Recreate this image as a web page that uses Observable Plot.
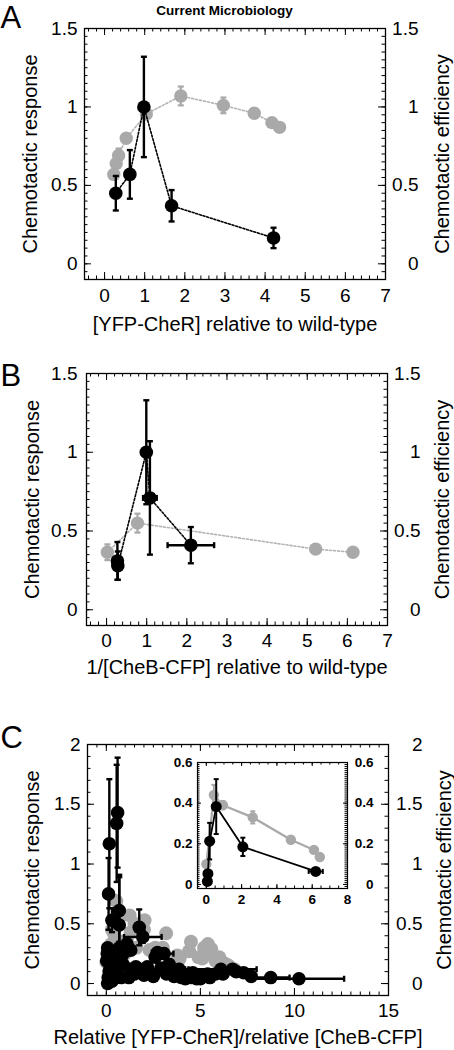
<!DOCTYPE html>
<html><head><meta charset="utf-8">
<script src="https://cdn.jsdelivr.net/npm/d3@7"></script>
<script src="https://cdn.jsdelivr.net/npm/@observablehq/plot@0.6"></script>
<style>
body{margin:0;background:#fff;}
#root{position:relative;width:454px;height:1050px;overflow:hidden;}
#root svg{position:absolute;}
</style></head><body><div id="root"></div>
<script>
// ---------- Panel A ----------
const A_resp_x   = [0.28, 0.63, 0.98, 1.67, 4.21];
const A_resp_y   = [0.45, 0.57, 1.00, 0.37, 0.165];
const A_resp_err = [0.11, 0.155, 0.32, 0.10, 0.065];
const A_eff_x    = [0.23, 0.29, 0.35, 0.54, 1.04, 1.90, 2.96, 3.73, 4.17, 4.36];
const A_eff_y    = [0.57, 0.64, 0.69, 0.80, 0.955, 1.07, 1.01, 0.96, 0.90, 0.87];
const A_eff_err  = [0.02, 0.03, 0.045, 0.02, 0.02, 0.06, 0.05, 0.03, 0.02, 0.02];
// ---------- Panel B ----------
const B_resp_x    = [0.27, 0.28, 0.99, 1.08, 2.10];
const B_resp_y    = [0.31, 0.28, 1.00, 0.71, 0.41];
const B_resp_yerr = [0.12, 0.09, 0.33, 0.36, 0.115];
const B_resp_xerr = [0, 0, 0.05, 0.17, 0.58];
const B_eff_x     = [0.02, 0.77, 5.21, 6.14];
const B_eff_y     = [0.365, 0.55, 0.385, 0.365];
const B_eff_err   = [0.05, 0.06, 0, 0];
// ---------- Panel C (main) ----------
const C_resp_x = [0.16,0.60,0.55,0.12,0.69,0.30,0.69,1.75,1.94,0.07,0.69,1.04,2.72,3.07,3.34,0.02,0.45,0.20,0.89,1.57,2.18,0.07,0.50,1.20,2.00,3.87,4.40,5.10,5.80,4.50,5.39,6.09,6.71,7.70,8.74,10.24,0.35,0.25,2.60,4.00,4.80,
  0.10,0.15,0.30,0.40,0.60,0.80,0.90,1.30,1.50,1.80,2.30,2.50,2.90,3.20,3.60,4.20,4.60,5.00,5.50,6.20,6.90,7.30,1.10,1.30,0.05,0.35,0.75];
const C_resp_y = [1.17,1.43,1.34,0.75,0.61,0.53,0.49,0.47,0.39,0.30,0.30,0.30,0.26,0.25,0.16,0.19,0.23,0.13,0.16,0.14,0.14,0.00,0.05,0.05,0.07,0.12,0.08,0.07,0.08,0.05,0.08,0.12,0.12,0.06,0.05,0.04,0.10,0.07,0.22,0.05,0.04,
  0.05,0.10,0.02,0.15,0.10,0.05,0.25,0.12,0.08,0.12,0.09,0.06,0.13,0.08,0.06,0.04,0.09,0.04,0.05,0.08,0.10,0.09,0.33,0.28,0.25,0.20,0.18];
const C_resp_yerr = [0.54,0.46,0.49,0.30,0.30,0.10,0.40,0.15,0.05,0,0.05,0,0.03,0.04,0,0,0,0,0,0,0,0,0,0,0,0,0,0,0,0,0,0,0,0,0,0,0,0,0,0,0,
  0,0,0,0,0,0,0,0,0,0,0,0,0,0,0,0,0,0,0,0,0,0,0,0,0,0,0];
const C_resp_xerr = [0,0,0,0,0,0,0,0.10,1.00,0,0,0,0.30,0.50,0,0,0,0,0,0,0,0,0,0,0,0.50,0,0,0,0,1.90,1.90,0,0,1.00,2.40,0,0,0,0,0,
  0,0,0,0,0,0,0,0,0,0,0,0,0,0,0,0,0,0,0,0,0,0,0,0,0,0,0];
const C_eff_x = [0.53,1.24,2.03,1.30,3.18,4.50,5.20,5.58,5.10,5.80,6.27,0.26,0.09,0.00,2.30,3.90,3.78,4.90,6.00,0.80,1.60,0.40,1.00,
  0.60,0.15,0.50,1.50,2.00,2.60,3.00,5.40,5.60,6.50,6.80,4.40,0.30,1.10];
const C_eff_y = [0.69,0.57,0.53,0.43,0.42,0.35,0.30,0.29,0.21,0.19,0.17,0.33,0.28,0.18,0.28,0.21,0.235,0.22,0.22,0.35,0.30,0.42,0.25,
  0.55,0.22,0.30,0.50,0.45,0.30,0.30,0.33,0.24,0.15,0.12,0.27,0.45,0.35];
// ---------- Panel C (inset) ----------
const Ci_eff_x   = [0.00, 0.43, 0.94, 2.63, 4.79, 6.10, 6.43];
const Ci_eff_y   = [0.10, 0.44, 0.39, 0.33, 0.22, 0.17, 0.135];
const Ci_eff_err = [0, 0.05, 0.02, 0.03, 0, 0, 0];
const Ci_resp_x    = [0.06, 0.09, 0.19, 0.56, 2.07, 6.20];
const Ci_resp_y    = [0.015, 0.053, 0.213, 0.383, 0.185, 0.064];
const Ci_resp_yerr = [0, 0, 0.09, 0.135, 0.045, 0];
const Ci_resp_xerr = [0, 0, 0, 0, 0, 0.4];
// ---------- tick values ----------
const AB_xTicks = [0,1,2,3,4,5,6,7];
const AB_yTicks = [0,0.5,1,1.5];
const C_xTicks = [0,5,10,15];
const C_yTicks = [0,0.5,1,1.5,2];
const Ci_xTicks = [0,2,4,6,8];
const Ci_yTicks = [0,0.2,0.4,0.6];

const FONT = '"Liberation Sans", Arial, Helvetica, sans-serif';
const GRAY = "#a9a9a9";
const GRAYLINE = "#b3b3b3";
const fmt = d => String(d);

const capH = {draw(ctx, size){const r=Math.sqrt(size/Math.PI); ctx.moveTo(-r,0); ctx.lineTo(r,0);}};
const capV = {draw(ctx, size){const r=Math.sqrt(size/Math.PI); ctx.moveTo(0,-r); ctx.lineTo(0,r);}};

function seq(a,b,s){const out=[];const n=Math.round((b-a)/s);for(let i=0;i<=n;i++) out.push(+(a+i*s).toFixed(6));return out;}
function rows(xs, ys, ye, xe){return xs.map((x,i)=>({x, y:ys[i], ye: ye ? ye[i] : 0, xe: xe ? xe[i] : 0}));}

function tickMarks(W,H,xMaj,xMin,yMaj,yMin,maj,min,sw){
  const o={stroke:"black",strokeWidth:sw};
  return [
    Plot.ruleX(xMin,{x:d=>d,insetTop:H-min,...o}),
    Plot.ruleX(xMin,{x:d=>d,insetBottom:H-min,...o}),
    Plot.ruleX(xMaj,{x:d=>d,insetTop:H-maj,...o}),
    Plot.ruleX(xMaj,{x:d=>d,insetBottom:H-maj,...o}),
    Plot.ruleY(yMin,{y:d=>d,insetRight:W-min,...o}),
    Plot.ruleY(yMin,{y:d=>d,insetLeft:W-min,...o}),
    Plot.ruleY(yMaj,{y:d=>d,insetRight:W-maj,...o}),
    Plot.ruleY(yMaj,{y:d=>d,insetLeft:W-maj,...o})
  ];
}

function errMarks(data,color,sw,cap){
  const dy=data.filter(r=>r.ye>0), dx=data.filter(r=>r.xe>0);
  const o={stroke:color,strokeWidth:sw};
  return [
    Plot.ruleX(dy,{x:"x",y1:r=>r.y-r.ye,y2:r=>r.y+r.ye,...o}),
    Plot.dot(dy,{x:"x",y:r=>r.y+r.ye,symbol:capH,r:cap,fill:"none",...o}),
    Plot.dot(dy,{x:"x",y:r=>r.y-r.ye,symbol:capH,r:cap,fill:"none",...o}),
    Plot.ruleY(dx,{y:"y",x1:r=>r.x-r.xe,x2:r=>r.x+r.xe,...o}),
    Plot.dot(dx,{y:"y",x:r=>r.x+r.xe,symbol:capV,r:cap,fill:"none",...o}),
    Plot.dot(dx,{y:"y",x:r=>r.x-r.xe,symbol:capV,r:cap,fill:"none",...o})
  ];
}

function mainPanel(c){
  const W=c.width-c.ml-c.mr, H=c.height-c.mt-c.mb;
  const svg = Plot.plot({
    width:c.width,height:c.height,marginLeft:c.ml,marginRight:c.mr,marginTop:c.mt,marginBottom:c.mb,
    x:{domain:c.xd},y:{domain:c.yd},
    style:{fontFamily:FONT,fontSize:"19px",color:"black",background:"transparent",overflow:"visible"},
    marks:[
      ...c.dataMarks,
      Plot.frame({stroke:"black",strokeWidth:1.3}),
      ...tickMarks(W,H,c.xTicks,c.xMinor,c.yTicks,c.yMinor,7,3.5,1),
      Plot.axisX({ticks:c.xTicks,tickSize:0,tickPadding:c.xPad,tickFormat:fmt,label:null,fontSize:19}),
      Plot.axisY({anchor:"left",ticks:c.yTicks,tickSize:0,tickPadding:c.lPad,tickFormat:fmt,label:null,fontSize:19}),
      Plot.axisY({anchor:"right",ticks:c.yTicks,tickSize:0,tickPadding:c.rPad,tickFormat:fmt,textAnchor:"end",label:null,fontSize:19}),
      Plot.text([c.xLabel],{text:d=>d,frameAnchor:"bottom",dy:c.xLabDy,textAnchor:"middle",lineAnchor:"middle",fontSize:20}),
      Plot.text([c.yLabel],{text:d=>d,frameAnchor:"left",dx:c.yLabDx,rotate:-90,textAnchor:"middle",lineAnchor:"middle",fontSize:20}),
      Plot.text([c.y2Label],{text:d=>d,frameAnchor:"right",dx:c.y2LabDx,rotate:-90,textAnchor:"middle",lineAnchor:"middle",fontSize:20}),
      Plot.text([c.letter],{text:d=>d,frameAnchor:"top-left",dx:-c.ml,dy:c.letterDy,textAnchor:"start",lineAnchor:"top",fontSize:31}),
      ...(c.extra||[])
    ]
  });
  svg.style.left=(c.left||0)+"px"; svg.style.top=c.top+"px";
  return svg;
}

const root=document.getElementById("root");

// Panel A
const aResp=rows(A_resp_x,A_resp_y,A_resp_err), aEff=rows(A_eff_x,A_eff_y,A_eff_err);
root.appendChild(mainPanel({
  top:0,width:454,height:330,ml:84,mr:69,mt:28,mb:51,xd:[-0.5,7],yd:[-0.1,1.5],
  xTicks:AB_xTicks,xMinor:seq(-0.4,6.8,0.2),yTicks:AB_yTicks,yMinor:seq(-0.05,1.45,0.05),
  xPad:9,lPad:7,rPad:33,xLabel:"[YFP-CheR] relative to wild-type",xLabDy:45,
  yLabel:"Chemotactic response",yLabDx:-54,y2Label:"Chemotactic efficiency",y2LabDx:57,
  letter:"A",letterDy:-23,
  dataMarks:[
    Plot.line(aEff,{x:"x",y:"y",stroke:GRAYLINE,strokeWidth:1.6,strokeDasharray:"2,2"}),
    ...errMarks(aEff,GRAY,2.2,3),
    Plot.dot(aEff,{x:"x",y:"y",r:6.7,fill:GRAY}),
    Plot.line(aResp,{x:"x",y:"y",stroke:"black",strokeWidth:1.6,strokeDasharray:"2,1.8"}),
    ...errMarks(aResp,"black",2.4,3),
    Plot.dot(aResp,{x:"x",y:"y",r:6.8,fill:"black"})
  ],
  extra:[Plot.text(["Current Microbiology"],{text:d=>d,frameAnchor:"top",dx:-10.5,dy:-23,textAnchor:"middle",lineAnchor:"top",fontSize:13.5,fontWeight:"bold"})]
}));

// Panel B
const bResp=rows(B_resp_x,B_resp_y,B_resp_yerr,B_resp_xerr), bEff=rows(B_eff_x,B_eff_y,B_eff_err);
root.appendChild(mainPanel({
  top:340,width:454,height:330,ml:86,mr:67,mt:33,mb:45,xd:[-0.5,7],yd:[-0.1,1.5],
  xTicks:AB_xTicks,xMinor:seq(-0.4,6.8,0.2),yTicks:AB_yTicks,yMinor:seq(-0.05,1.45,0.05),
  xPad:8,lPad:9,rPad:33,xLabel:"1/[CheB-CFP] relative to wild-type",xLabDy:42,
  yLabel:"Chemotactic response",yLabDx:-53.5,y2Label:"Chemotactic efficiency",y2LabDx:55,
  letter:"B",letterDy:-10,
  dataMarks:[
    Plot.line(bEff,{x:"x",y:"y",stroke:GRAYLINE,strokeWidth:1.6,strokeDasharray:"2,2"}),
    ...errMarks(bEff,GRAY,2.2,3),
    Plot.dot(bEff,{x:"x",y:"y",r:6.7,fill:GRAY}),
    Plot.line(bResp,{x:"x",y:"y",stroke:"black",strokeWidth:1.6,strokeDasharray:"2,1.8"}),
    ...errMarks(bResp,"black",2.4,3),
    Plot.dot(bResp,{x:"x",y:"y",r:6.8,fill:"black"})
  ]
}));

// Panel C
const cResp=rows(C_resp_x,C_resp_y,C_resp_yerr,C_resp_xerr), cEff=rows(C_eff_x,C_eff_y);
root.appendChild(mainPanel({
  top:680,width:454,height:370,ml:87,mr:66,mt:64,mb:55,xd:[-1,15],yd:[-0.1,2],
  xTicks:C_xTicks,xMinor:seq(-0.5,14.5,0.5),yTicks:C_yTicks,yMinor:seq(-0.1,1.9,0.1),
  xPad:8,lPad:7,rPad:34,xLabel:"Relative [YFP-CheR]/relative [CheB-CFP]",xLabDy:42,
  yLabel:"Chemotactic response",yLabDx:-55,y2Label:"Chemotactic efficiency",y2LabDx:56,
  letter:"C",letterDy:-19,
  dataMarks:[
    Plot.dot(cEff,{x:"x",y:"y",r:7,fill:GRAY}),
    ...errMarks(cResp,"black",2.4,3),
    Plot.dot(cResp,{x:"x",y:"y",r:6.8,fill:"black"})
  ]
}));

// Inset
const iResp=rows(Ci_resp_x,Ci_resp_y,Ci_resp_yerr,Ci_resp_xerr), iEff=rows(Ci_eff_x,Ci_eff_y,Ci_eff_err);
{
  const width=220,height=170,ml=37,mr=33,mt=17,mb=27;
  const W=width-ml-mr,H=height-mt-mb;
  const svg=Plot.plot({
    width,height,marginLeft:ml,marginRight:mr,marginTop:mt,marginBottom:mb,
    x:{domain:[-0.5,8]},y:{domain:[-0.02,0.6]},
    style:{fontFamily:FONT,fontSize:"13.5px",fontWeight:"bold",color:"black",background:"transparent",overflow:"visible"},
    marks:[
      Plot.line(iEff,{x:"x",y:"y",stroke:GRAY,strokeWidth:2.2}),
      ...errMarks(iEff,GRAY,2,2.5),
      Plot.dot(iEff,{x:"x",y:"y",r:5.2,fill:GRAY}),
      Plot.line(iResp,{x:"x",y:"y",stroke:"black",strokeWidth:1.8}),
      ...errMarks(iResp,"black",2,2.5),
      Plot.dot(iResp,{x:"x",y:"y",r:5.5,fill:"black"}),
      Plot.frame({stroke:"black",strokeWidth:1.2}),
      ...tickMarks(W,H,Ci_xTicks,seq(-0.5,7.5,0.5),Ci_yTicks,seq(-0.02,0.59,0.01),4,2.5,1),
      Plot.axisX({ticks:Ci_xTicks,tickSize:0,tickPadding:6,tickFormat:fmt,label:null,fontSize:13.5,fontWeight:"bold"}),
      Plot.axisY({anchor:"left",ticks:Ci_yTicks,tickSize:0,tickPadding:5,tickFormat:fmt,label:null,fontSize:13.5,fontWeight:"bold"}),
      Plot.axisY({anchor:"right",ticks:Ci_yTicks,tickSize:0,tickPadding:26,tickFormat:fmt,textAnchor:"end",label:null,fontSize:13.5,fontWeight:"bold"})
    ]
  });
  svg.style.left="160px"; svg.style.top="745px";
  root.appendChild(svg);
}
</script>
</body></html>
